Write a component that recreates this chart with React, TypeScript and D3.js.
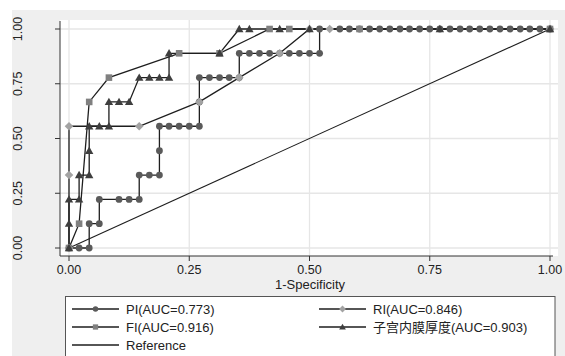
import React from "react";
import * as d3 from "d3";

// ---- data ----
const piX = [0, 0.021, 0.042, 0.042, 0.063, 0.063, 0.104, 0.125, 0.146, 0.146, 0.167, 0.188, 0.188, 0.188, 0.208, 0.229, 0.25, 0.271, 0.271, 0.271, 0.292, 0.313, 0.333, 0.354, 0.354, 0.375, 0.396, 0.417, 0.438, 0.458, 0.479, 0.5, 0.521, 0.521, 0.563, 0.583, 0.604, 0.625, 0.646, 0.667, 0.688, 0.708, 0.729, 0.75, 0.771, 0.792, 0.813, 0.833, 0.854, 0.875, 0.896, 0.917, 0.938, 0.958, 0.979, 1];
const piY = [0, 0, 0, 0.111, 0.111, 0.222, 0.222, 0.222, 0.222, 0.333, 0.333, 0.333, 0.444, 0.556, 0.556, 0.556, 0.556, 0.556, 0.667, 0.778, 0.778, 0.778, 0.778, 0.778, 0.889, 0.889, 0.889, 0.889, 0.889, 0.889, 0.889, 0.889, 0.889, 1, 1, 1, 1, 1, 1, 1, 1, 1, 1, 1, 1, 1, 1, 1, 1, 1, 1, 1, 1, 1, 1, 1];

const riX = [0, 0, 0, 0.146, 0.271, 0.354, 0.438, 0.5, 0.542, 1];
const riY = [0, 0.333, 0.556, 0.556, 0.667, 0.778, 0.889, 1, 1, 1];

const fiX = [0, 0.021, 0.042, 0.083, 0.229, 0.313, 0.417, 0.458, 0.604, 1];
const fiY = [0, 0.111, 0.667, 0.778, 0.889, 0.889, 1, 1, 1, 1];

const emX = [0, 0, 0, 0.021, 0.021, 0.042, 0.042, 0.042, 0.063, 0.083, 0.083, 0.104, 0.125, 0.146, 0.167, 0.188, 0.208, 0.208, 0.313, 0.354, 0.375, 0.438, 0.5, 0.771, 1];
const emY = [0, 0.111, 0.222, 0.222, 0.333, 0.333, 0.444, 0.556, 0.556, 0.556, 0.667, 0.667, 0.667, 0.778, 0.778, 0.778, 0.778, 0.889, 0.889, 1, 1, 1, 1, 1, 1];

const refX = [0, 1];
const refY = [0, 1];

const xTicks = [0, 0.25, 0.5, 0.75, 1];
const yTicks = [0, 0.25, 0.5, 0.75, 1];
const xTitle = "1-Specificity";
const legendLabels = ["PI(AUC=0.773)", "RI(AUC=0.846)", "FI(AUC=0.916)", "子宫内膜厚度(AUC=0.903)", "Reference"];

const FONT = "'Liberation Sans', Arial, 'Noto Sans CJK SC', sans-serif";
const LINE = "#1e1e1e";
const C_PI = "#5a5a5a";
const C_RI = "#a3a3a3";
const C_FI = "#808080";
const C_EM = "#3e3e3e";

type Shape = "circle" | "diamond" | "square" | "triangle";

function Marker({ shape, x, y, color, s = 1 }: { shape: Shape; x: number; y: number; color: string; s?: number }) {
  if (shape === "circle") return <circle cx={x} cy={y} r={3.4 * s} fill={color} />;
  if (shape === "square") {
    const h = 3.3 * s;
    return <rect x={x - h} y={y - h} width={2 * h} height={2 * h} fill={color} />;
  }
  if (shape === "diamond") {
    const h = 4.3 * s;
    return <path d={`M${x},${y - h}L${x + h},${y}L${x},${y + h}L${x - h},${y}Z`} fill={color} />;
  }
  const h = 4.2 * s;
  return <path d={`M${x},${y - h}L${x + h},${y + h * 0.75}L${x - h},${y + h * 0.75}Z`} fill={color} />;
}

export default function App() {
  const x = d3.scaleLinear().domain([0, 1]).range([69, 550]);
  const y = d3.scaleLinear().domain([0, 1]).range([248, 29]);
  const line = d3
    .line<[number, number]>()
    .x((d) => x(d[0]))
    .y((d) => y(d[1]));

  const series: { xs: number[]; ys: number[]; shape: Shape; color: string }[] = [
    { xs: piX, ys: piY, shape: "circle", color: C_PI },
    { xs: riX, ys: riY, shape: "diamond", color: C_RI },
    { xs: fiX, ys: fiY, shape: "square", color: C_FI },
    { xs: emX, ys: emY, shape: "triangle", color: C_EM },
  ];

  const plotL = 60, plotR = 558, plotT = 20, plotB = 256;

  const legendItems: { label: string; shape: Shape | null; color: string; lx: number; ly: number }[] = [
    { label: legendLabels[0], shape: "circle", color: C_PI, lx: 72, ly: 309 },
    { label: legendLabels[1], shape: "diamond", color: C_RI, lx: 319, ly: 309 },
    { label: legendLabels[2], shape: "square", color: C_FI, lx: 72, ly: 327 },
    { label: legendLabels[3], shape: "triangle", color: C_EM, lx: 319, ly: 327 },
    { label: legendLabels[4], shape: null, color: C_PI, lx: 72, ly: 345 },
  ];

  return (
    <svg
      width={565}
      height={356}
      style={{ position: "fixed", left: 0, top: 0, background: "#fff" }}
      fontFamily={FONT}
    >
      <rect x={0} y={0} width={565} height={356} fill="#fff" />
      <rect x={12} y={10} width={553} height={346} fill="#efefef" />
      <rect x={plotL} y={plotT} width={plotR - plotL} height={plotB - plotT} fill="#fff" />

      {/* grid */}
      {xTicks.map((t) => (
        <line key={"gx" + t} x1={x(t)} x2={x(t)} y1={plotT} y2={plotB} stroke="#e6e6e6" strokeWidth={1.3} />
      ))}
      {yTicks.map((t) => (
        <line key={"gy" + t} x1={plotL} x2={plotR} y1={y(t)} y2={y(t)} stroke="#e6e6e6" strokeWidth={1.3} />
      ))}

      {/* axes */}
      <line x1={plotL} x2={plotL} y1={21} y2={plotB} stroke="#333" strokeWidth={1} />
      <line x1={plotL} x2={553} y1={plotB} y2={plotB} stroke="#333" strokeWidth={1} />
      {yTicks.map((t) => (
        <g key={"yt" + t}>
          <line x1={55} x2={plotL} y1={y(t)} y2={y(t)} stroke="#333" />
          <text
            transform={`translate(17.5,${y(t)}) rotate(-90)`}
            textAnchor="middle"
            dominantBaseline="central"
            fontSize={12.5}
            fill="#222"
          >
            {t.toFixed(2)}
          </text>
        </g>
      ))}
      {xTicks.map((t) => (
        <g key={"xt" + t}>
          <line x1={x(t)} x2={x(t)} y1={plotB} y2={261} stroke="#333" />
          <text x={x(t)} y={274} textAnchor="middle" fontSize={12.5} fill="#222">
            {t.toFixed(2)}
          </text>
        </g>
      ))}
      <text x={310} y={289} textAnchor="middle" fontSize={13} fill="#222">
        {xTitle}
      </text>

      {/* reference line */}
      <path d={line(refX.map((v, i) => [v, refY[i]]) as any) || ""} fill="none" stroke={LINE} strokeWidth={1.1} />

      {/* curves */}
      {series.map((s, si) => (
        <path
          key={"l" + si}
          d={line(s.xs.map((v, i) => [v, s.ys[i]]) as any) || ""}
          fill="none"
          stroke={LINE}
          strokeWidth={1.3}
        />
      ))}
      {series.map((s, si) => (
        <g key={"m" + si}>
          {s.xs.map((v, i) => (
            <Marker key={i} shape={s.shape} x={x(v)} y={y(s.ys[i])} color={s.color} />
          ))}
        </g>
      ))}

      {/* legend */}
      <rect x={65.5} y={296.5} width={489.5} height={70} fill="#fff" stroke="#555" strokeWidth={1} />
      {legendItems.map((it, i) => (
        <g key={"lg" + i}>
          <line x1={it.lx} x2={it.lx + 47} y1={it.ly} y2={it.ly} stroke={LINE} strokeWidth={1.3} />
          {it.shape && <Marker shape={it.shape} x={it.lx + 23.5} y={it.ly} color={it.color} s={0.8} />}
          <text x={it.lx + 54} y={it.ly} dominantBaseline="central" fontSize={13} fill="#222">
            {it.label}
          </text>
        </g>
      ))}
    </svg>
  );
}
